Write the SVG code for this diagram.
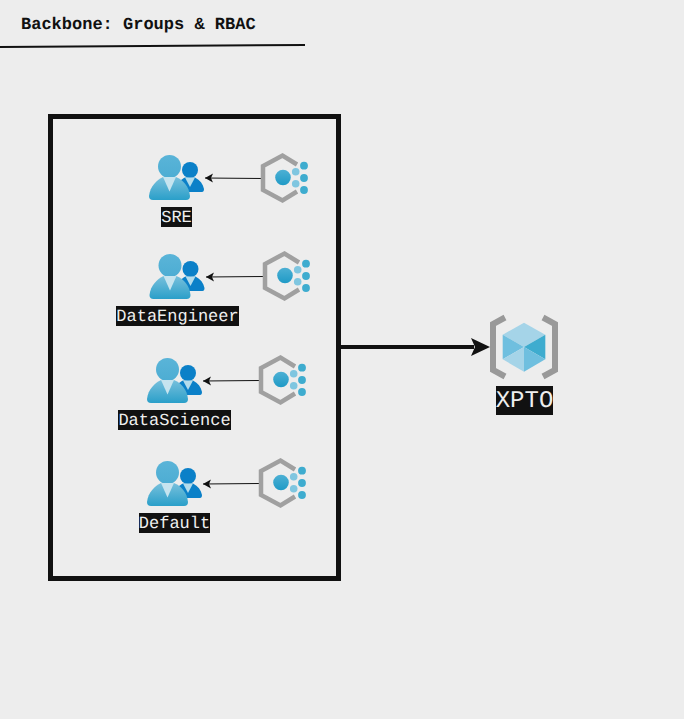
<svg xmlns="http://www.w3.org/2000/svg" width="684" height="719" viewBox="0 0 684 719" text-rendering="geometricPrecision">
<style>
.lbl{font-family:"Liberation Mono",monospace;font-size:17px;fill:#eeeeee;text-anchor:middle}
.bg{fill:#111111}
.c1{stroke:#111111;stroke-width:1;fill:none;marker-end:url(#small)}
</style>
<defs>
<linearGradient id="gb" x1="0" y1="0" x2="0" y2="1"><stop offset="0" stop-color="#5ab4d8"/><stop offset="1" stop-color="#4dadd3"/></linearGradient>
<linearGradient id="gs" x1="0" y1="0" x2="0" y2="1"><stop offset="0" stop-color="#78c0dc"/><stop offset="1" stop-color="#2a9fc9"/></linearGradient>
<linearGradient id="gd" x1="0" y1="0" x2="0" y2="1"><stop offset="0" stop-color="#4db0d4"/><stop offset="1" stop-color="#1f9ac6"/></linearGradient>
<marker id="small" markerUnits="userSpaceOnUse" markerWidth="10" markerHeight="10" refX="9" refY="5" orient="auto"><path d="M1 0.500L9 5L1 9.500L3 5Z" fill="#111111"/></marker>
<g id="users">
<circle cx="190" cy="170" r="8" fill="#0b80c8"/>
<path d="M178 182C181 180 183 178.500 185 177.500H195C200 180 203 184 204 189Q204 192 202 192H176Z" fill="#0b80c8"/>
<path d="M185 177.500H195L190 187Z" fill="#b4dcec"/>
<circle cx="169.500" cy="166.500" r="11.500" fill="url(#gb)"/>
<path d="M149 196C150 186 157 180 163 177H176C183 180 189 186 190 196Q190 200 186 200H153Q149 200 149 196Z" fill="url(#gs)"/>
<path d="M163 177H176L169.500 191.500Z" fill="#c6e4ef"/>
</g>
<g id="cluster">
<path d="M297 164.500L282.500 155.500L263 166V190L282.500 200.500L297 191.500" fill="none" stroke="#a0a0a0" stroke-width="4.500"/>
<circle cx="283" cy="177.500" r="7.800" fill="url(#gd)"/>
<circle cx="295.700" cy="171.700" r="3.800" fill="#7fc6e0"/>
<circle cx="295.700" cy="183.700" r="3.800" fill="#7fc6e0"/>
<circle cx="304" cy="165.700" r="3.900" fill="#3eaccf"/>
<circle cx="304" cy="178" r="3.900" fill="#3eaccf"/>
<circle cx="304" cy="190" r="3.900" fill="#3eaccf"/>
</g>
</defs>
<rect width="684" height="719" fill="#ededed"/>
<g id="title">
<text x="21" y="28.500" font-family="'Liberation Mono',monospace" font-size="17" font-weight="bold" fill="#111111">Backbone: Groups &amp; RBAC</text>
<path d="M0 47L305 45" stroke="#111111" stroke-width="2" fill="none"/>
</g>
<g id="frame"><rect x="50.500" y="116.500" width="288" height="462" fill="none" stroke="#111111" stroke-width="5"/></g>
<g id="connectors">
<path class="c1" d="M262 178.500L205 178"/>
<path class="c1" d="M264 276.500L206 277"/>
<path class="c1" d="M260 380.500L203 381"/>
<path class="c1" d="M260 483.500L203 484"/>
<path d="M341 347H474" stroke="#111111" stroke-width="4" fill="none"/>
<path d="M490 347L471 338L475 347L471 356Z" fill="#111111"/>
</g>
<g id="sre"><use href="#users"/><use href="#cluster"/><rect class="bg" x="161" y="207" width="31" height="20"/><text class="lbl" x="176.500" y="221.500">SRE</text></g>
<g id="dataengineer"><use href="#users" x="0.500" y="99"/><use href="#cluster" x="2" y="98"/><rect class="bg" x="116" y="306" width="123" height="20"/><text class="lbl" x="177.500" y="320.500">DataEngineer</text></g>
<g id="datascience"><use href="#users" x="-2" y="203"/><use href="#cluster" x="-2" y="202"/><rect class="bg" x="118" y="410" width="113" height="20"/><text class="lbl" x="174.500" y="424.500">DataScience</text></g>
<g id="default"><use href="#users" x="-2" y="306"/><use href="#cluster" x="-2" y="305"/><rect class="bg" x="139" y="513" width="71" height="20"/><text class="lbl" x="174.500" y="527.500">Default</text></g>
<g id="xpto">
<path d="M505 317.500L493 324V370L505 376.500M543 317.500L555 324V370L543 376.500" fill="none" stroke="#999999" stroke-width="6"/>
<path d="M524 322.700L545.300 334.700L524 347L502.700 334.700Z" fill="#a5d4e8"/>
<path d="M502.700 334.700L524 347L502.700 359.300Z" fill="#6fbfdf"/>
<path d="M502.700 359.300L524 347V371.700Z" fill="#a5d4e8"/>
<path d="M545.300 334.700L524 347L545.300 359.300Z" fill="#3eaccf"/>
<path d="M545.300 359.300L524 347V371.700Z" fill="#6fbfdf"/>
<rect class="bg" x="496" y="386" width="57" height="29"/>
<text class="lbl" x="524.500" y="407" style="font-size:24px">XPTO</text>
</g>
</svg>
